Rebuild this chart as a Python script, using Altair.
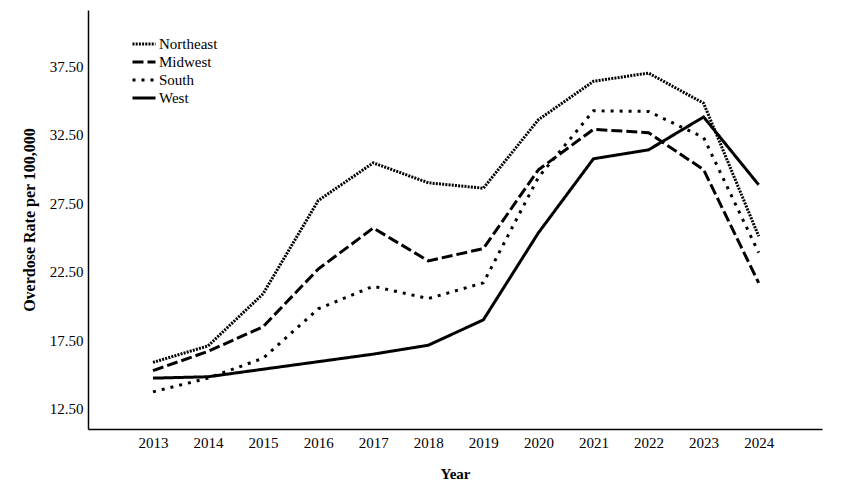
import altair as alt
import pandas as pd

years = list(range(2013, 2025))
regions = ["Northeast", "Midwest", "South", "West"]
northeast = [15.9, 17.1, 20.9, 27.7, 30.45, 29.0, 28.6, 33.6, 36.4, 37.0, 34.8, 25.1]
midwest = [15.3, 16.7, 18.5, 22.7, 25.7, 23.3, 24.2, 29.95, 32.9, 32.65, 29.95, 21.7]
south = [13.75, 14.75, 16.2, 19.8, 21.45, 20.55, 21.7, 29.4, 34.25, 34.2, 32.3, 23.9]
west = [14.75, 14.85, 15.4, 15.95, 16.5, 17.15, 19.0, 25.35, 30.75, 31.4, 33.8, 28.85]
y_ticks = [12.5, 17.5, 22.5, 27.5, 32.5, 37.5]
dashes = [[2, 1.2], [11, 4], [3, 6], [1, 0]]

rows = []
for name, vals in zip(regions, [northeast, midwest, south, west]):
    for yr, v in zip(years, vals):
        rows.append({"Year": yr, "Rate": v, "Region": name})
df = pd.DataFrame(rows)

font = "Liberation Serif"

chart = alt.Chart(df).mark_line(strokeWidth=3, color="black", strokeCap="butt").encode(
    x=alt.X("Year:Q", scale=alt.Scale(domain=[2011.82, 2025.15], nice=False, zero=False),
            axis=alt.Axis(values=years, format="d", title="Year", ticks=False, grid=False,
                          labelPadding=6, titlePadding=16, titleFontSize=15)),
    y=alt.Y("Rate:Q", scale=alt.Scale(domain=[11.04, 41.6], nice=False, zero=False),
            axis=alt.Axis(values=y_ticks, format=".2f", title="Overdose Rate per 100,000",
                          ticks=False, grid=False, labelPadding=5, titlePadding=12,
                          titleFontSize=16)),
    strokeDash=alt.StrokeDash("Region:N", sort=regions,
                              scale=alt.Scale(domain=regions, range=dashes),
                              legend=alt.Legend(title=None, orient="none", legendX=43, legendY=25,
                                                symbolType="stroke", symbolSize=529,
                                                symbolStrokeWidth=3, symbolStrokeColor="black",
                                                labelFont=font, labelFontSize=15, labelColor="black",
                                                rowPadding=0, clipHeight=18, labelOffset=2,
                                                padding=0)),
    detail="Region:N",
).properties(
    width=734, height=419,
    autosize=alt.AutoSizeParams(type="none"),
    padding={"left": 80, "top": 2, "right": 23, "bottom": 66},
).configure(font=font).configure_view(stroke=None).configure_axis(
    labelFont=font, labelFontSize=15, labelColor="black",
    titleFont=font, titleFontWeight="bold", titleColor="black",
    domainColor="black", domainWidth=1.5,
).configure_legend(labelFont=font, labelFontSize=15, labelColor="black")

chart.save("out.html", embed_options={"renderer": "svg", "actions": False})
